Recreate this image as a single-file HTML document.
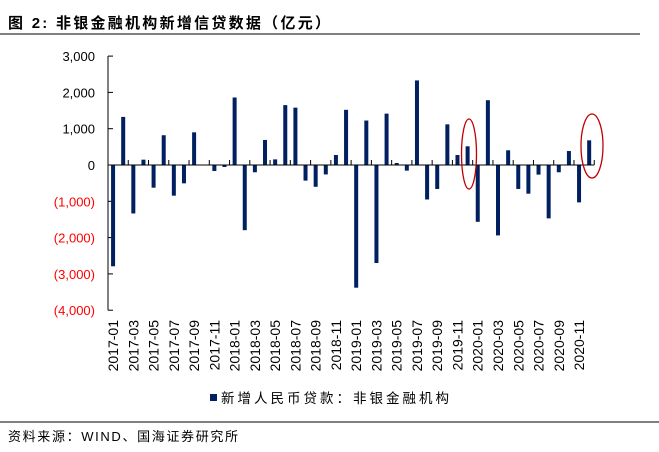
<!DOCTYPE html>
<html><head><meta charset="utf-8"><style>
body{margin:0;background:#fff;}
svg{display:block;font-family:"Liberation Sans","Noto Sans CJK SC",sans-serif;}
</style></head><body>
<svg id="chart" width="659" height="452" viewBox="0 0 659 452" xmlns="http://www.w3.org/2000/svg">
<text x="8" y="28" font-size="15" font-weight="bold" fill="#000" textLength="322" lengthAdjust="spacing">图 2:  非银金融机构新增信贷数据（亿元）</text>
<line x1="0" y1="34" x2="640" y2="34" stroke="#000" stroke-width="1"/>
<g id="yaxis"></g>
<g id="bars"></g>
<g id="xaxis"></g>
<ellipse cx="469" cy="154" rx="7.5" ry="35" fill="none" stroke="#c00000" stroke-width="1.3"/>
<ellipse cx="592" cy="146" rx="11" ry="32" fill="none" stroke="#c00000" stroke-width="1.3"/>
<g>
<rect x="210" y="394" width="7" height="7" fill="#002060"/>
<text x="221" y="403" font-size="13.5" fill="#000" textLength="228" lengthAdjust="spacing">新增人民币贷款：非银金融机构</text>
</g>
<line x1="0" y1="422" x2="659" y2="422" stroke="#000" stroke-width="1"/>
<text x="8" y="441" font-size="13" fill="#000" textLength="230" lengthAdjust="spacing">资料来源：WIND、国海证券研究所</text>
</svg>
<script>
const categories = [];
for (let y = 2017; y <= 2020; y++) for (let m = 1; m <= 12; m++) categories.push(y + '-' + (m < 10 ? '0' + m : m));
const values = [-2790,1325,-1335,147,-625,820,-845,-505,900,10,-165,-55,
 1860,-1795,-200,690,155,1650,1580,-430,-600,-260,275,1520,
 -3380,1225,-2700,1415,55,-155,2330,-950,-660,1120,275,515,
 -1565,1785,-1940,405,-660,-790,-265,-1470,-200,385,-1030,680];
const yTicks = [3000,2000,1000,0,-1000,-2000,-3000,-4000];
const yTickLabels = ['3,000','2,000','1,000','0','(1,000)','(2,000)','(3,000)','(4,000)'];

const NS = 'http://www.w3.org/2000/svg';
const x0 = 108, step = 10.13, yZero = 165, pxPer = 0.0363;
const yScale = v => yZero - v * pxPer;
const xScale = i => x0 + (i + 0.5) * step;
function mk(tag, attrs, parent){const e=document.createElementNS(NS,tag);for(const k in attrs)e.setAttribute(k,attrs[k]);parent.appendChild(e);return e;}

const ya = document.getElementById('yaxis');
const yl = mk('line',{x1:x0,y1:yScale(3000),x2:x0,y2:yScale(-4000),stroke:'#000','stroke-width':1},ya);


yTicks.forEach((t,i)=>{
  const tk = mk('line',{x1:x0,y1:yScale(t),x2:x0+5,y2:yScale(t),stroke:'#000','stroke-width':1},ya);
  
  
  const tx = mk('text',{x:95,y:yScale(t)+5,'text-anchor':'end','font-size':13,fill:t<0?'#ff0000':'#000'},ya);
  tx.textContent = yTickLabels[i];
  
  
});

const bg = document.getElementById('bars');
values.forEach((v,i)=>{
  const y1 = yScale(Math.max(v,0)), y2 = yScale(Math.min(v,0));
  const r = mk('rect',{x:xScale(i)-2,y:y1,width:4,height:Math.max(y2-y1,0.5),fill:'#002060'},bg);
  
  
});

const xa = document.getElementById('xaxis');
const xl = mk('line',{x1:x0,y1:yZero,x2:x0+categories.length*step,y2:yZero,stroke:'#000','stroke-width':1},xa);


for (let i = 2; i <= categories.length; i += 2) {
  const xx = x0 + i*step;
  const tk = mk('line',{x1:xx,y1:yZero,x2:xx,y2:yZero-5,stroke:'#000','stroke-width':1},xa);
  
  
}
categories.forEach((c,i)=>{
  if (i % 2) return;
  const cx = xScale(i)+5, cy = 320;
  const t = mk('text',{x:cx,y:cy,'text-anchor':'end','font-size':14,fill:'#000',transform:`rotate(-90 ${cx} ${cy})`},xa);
  t.textContent = c;
  
  
});
</script>
</body></html>
